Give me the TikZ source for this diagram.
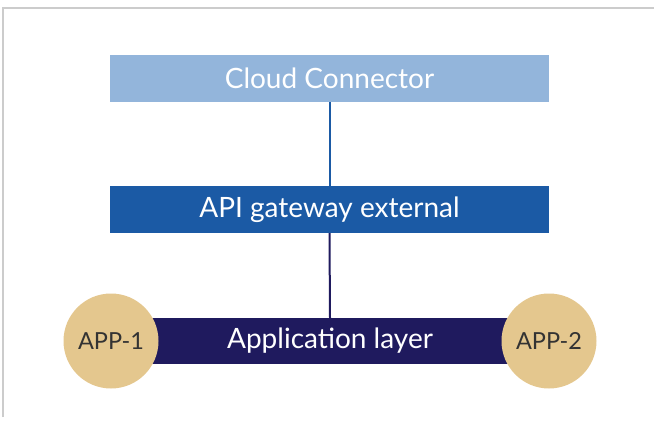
\documentclass[tikz,border=0pt]{standalone}
\usepackage{fontspec}
\setmainfont{Lato}
\definecolor{cloudblue}{HTML}{93B5DB}
\definecolor{gateblue}{HTML}{1B5AA5}
\definecolor{appnavy}{HTML}{1F1A5E}
\definecolor{appgold}{HTML}{E4C78E}
\definecolor{framegray}{HTML}{CCCCCC}
\begin{document}
\begin{tikzpicture}[
        x=1pt, y=-1pt,
        layer/.style={rectangle, minimum width=439pt, minimum height=47pt, inner sep=0pt, text=white, font=\fontsize{28}{32}\selectfont},
        appcircle/.style={circle, fill=appgold, minimum size=95pt, inner sep=0pt, text=black!80, font=\fontsize{23.5}{28}\selectfont},
        link/.style={line width=2pt}
    ]
    \useasboundingbox (0,0) rectangle (654,421);
    \draw[framegray, line width=2pt] (3,417) -- (3,8) -- (654,8);
    % layers
    \node[layer, fill=cloudblue] (cloud) at (329.5,78.5) {Cloud Connector};
    \node[layer, fill=gateblue] (api) at (329.5,209.5) {API gateway external};
    \node[layer, fill=appnavy, minimum width=438pt, minimum height=46pt] (app) at (330,341) {Application layer};
    % apps
    \node[appcircle] (app1) at (111,341) {APP-1};
    \node[appcircle] (app2) at (549,341) {APP-2};
    % links
    \draw[link, gateblue] (cloud.south) -- (api.north);
    \draw[link, appnavy] (api.south) -- (app.north);
\end{tikzpicture}
\end{document}
